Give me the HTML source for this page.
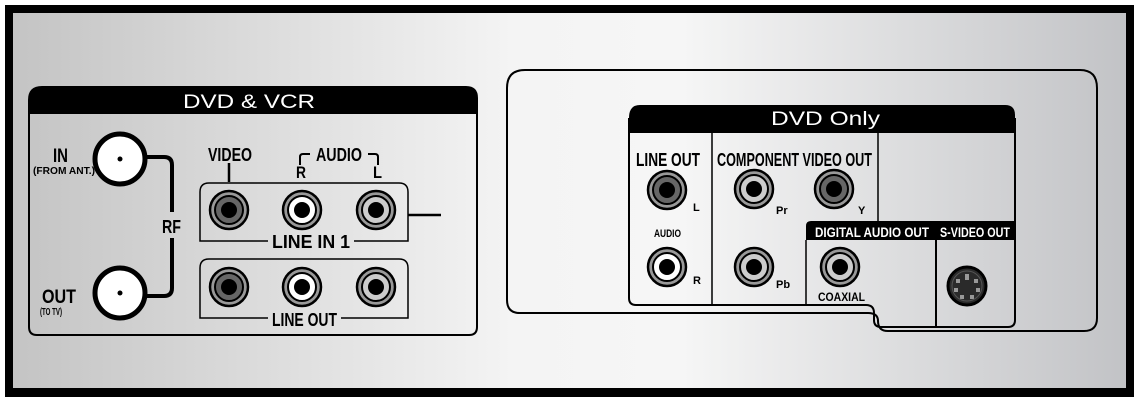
<!DOCTYPE html>
<html><head><meta charset="utf-8"><style>
html,body{margin:0;padding:0;background:#fff;}
svg{display:block}
text{font-family:"Liberation Sans",sans-serif;}
.c{font-family:"Liberation Sans",sans-serif;font-weight:bold;}
</style></head><body>
<svg width="1139" height="402" viewBox="0 0 1139 402" xmlns="http://www.w3.org/2000/svg">
<defs>
<linearGradient id="bg" x1="0" x2="1" y1="0" y2="0">
<stop offset="0" stop-color="#c4c4c4"/><stop offset="0.45" stop-color="#f4f4f4"/><stop offset="0.6" stop-color="#f6f6f6"/><stop offset="1" stop-color="#c2c3c6"/>
</linearGradient>
<g id="jd"><circle r="19" fill="#999" stroke="#000" stroke-width="2.5"/><circle r="14" fill="#666" stroke="#000" stroke-width="2"/><circle r="8" fill="#000"/></g>
<g id="jw"><circle r="19" fill="#999" stroke="#000" stroke-width="2.5"/><circle r="14" fill="#fff" stroke="#000" stroke-width="2"/><circle r="8" fill="#000"/></g>
<g id="jl"><circle r="19" fill="#999" stroke="#000" stroke-width="2.5"/><circle r="14" fill="#ccc" stroke="#000" stroke-width="2"/><circle r="8" fill="#000"/></g>
</defs>
<rect x="5" y="5" width="1129" height="392" fill="#000"/>
<rect x="13" y="13" width="1113" height="375" fill="url(#bg)"/>

<!-- Left panel -->
<path d="M29,100 Q29,87 42,87 L466,87 Q477,87 477,98 L477,327 Q477,335 469,335 L37,335 Q29,335 29,327 Z" fill="none" stroke="#000" stroke-width="2"/>
<path d="M29,114 L29,100 Q29,87 42,87 L466,87 Q477,87 477,98 L477,114 Z" fill="#000"/>
<text x="183" y="108" font-size="19" fill="#fff" textLength="132" lengthAdjust="spacingAndGlyphs">DVD &amp; VCR</text>
<circle cx="120" cy="159" r="25" fill="#fff" stroke="#000" stroke-width="5"/><circle cx="120" cy="159" r="2.5" fill="#000"/>
<circle cx="120" cy="293" r="25" fill="#fff" stroke="#000" stroke-width="5"/><circle cx="120" cy="293" r="2.5" fill="#000"/>
<path d="M145,157 L164,157 Q172,157 172,165 L172,212 M172,238 L172,288 Q172,296 164,296 L145,296" fill="none" stroke="#000" stroke-width="4"/>
<text x="162" y="233" class="c" font-size="18" textLength="19" lengthAdjust="spacingAndGlyphs">RF</text>
<text x="53" y="162" class="c" font-size="19" textLength="15" lengthAdjust="spacingAndGlyphs">IN</text>
<text x="33" y="174" class="c" font-size="10" textLength="62" lengthAdjust="spacingAndGlyphs">(FROM ANT.)</text>
<text x="42" y="303" class="c" font-size="19" textLength="34" lengthAdjust="spacingAndGlyphs">OUT</text>
<text x="40" y="315" class="c" font-size="10" textLength="22" lengthAdjust="spacingAndGlyphs">(TO TV)</text>
<text x="208" y="161" class="c" font-size="18" textLength="44" lengthAdjust="spacingAndGlyphs">VIDEO</text>
<line x1="229" y1="163" x2="229" y2="182" stroke="#000" stroke-width="2.5"/>
<text x="316" y="161" class="c" font-size="18" textLength="46" lengthAdjust="spacingAndGlyphs">AUDIO</text>
<path d="M300,165 L300,157 Q300,154 303,154 L310,154 M368,154 L375,154 Q378,154 378,157 L378,165" fill="none" stroke="#000" stroke-width="2"/>
<text x="296" y="178" class="c" font-size="17" textLength="10" lengthAdjust="spacingAndGlyphs">R</text>
<text x="373" y="178" class="c" font-size="17" textLength="9" lengthAdjust="spacingAndGlyphs">L</text>
<path d="M268,241 L200,241 L200,192 Q200,183 209,183 L399,183 Q408,183 408,192 L408,241 L354,241" fill="none" stroke="#000" stroke-width="1.5"/>
<text x="272" y="248" class="c" font-size="18" textLength="78" lengthAdjust="spacingAndGlyphs">LINE IN 1</text>
<line x1="408" y1="215" x2="441" y2="215" stroke="#000" stroke-width="2.5"/>
<path d="M268,318 L200,318 L200,268 Q200,259 209,259 L399,259 Q408,259 408,268 L408,318 L341,318" fill="none" stroke="#000" stroke-width="1.5"/>
<text x="272" y="326" class="c" font-size="18" textLength="65" lengthAdjust="spacingAndGlyphs">LINE OUT</text>
<use href="#jd" x="229" y="210"/><use href="#jw" x="302" y="210"/><use href="#jl" x="376" y="210"/>
<use href="#jd" x="229" y="287"/><use href="#jw" x="302" y="287"/><use href="#jl" x="376" y="287"/>

<!-- Right outer shape -->
<path d="M507,300 L507,88 Q507,70 525,70 L1080,70 Q1097,70 1097,88 L1097,318 Q1097,331 1084,331 L888,331 Q878,331 878,321 Q878,313 868,313 L520,313 Q507,313 507,300 Z" fill="none" stroke="#000" stroke-width="2"/>
<!-- DVD only panel -->
<path d="M629,133 L629,118 Q629,105 640,105 L1005,105 Q1015,105 1015,115 L1015,133 Z" fill="#000"/>
<text x="771" y="125" font-size="19" fill="#fff" textLength="109" lengthAdjust="spacingAndGlyphs">DVD Only</text>
<path d="M629,118 L629,298 Q629,305 636,305 L866,305 Q874,305 874,313 L874,320 Q874,327 881,327 L1008,327 Q1015,327 1015,320 L1015,118" fill="none" stroke="#000" stroke-width="2"/>
<line x1="712" y1="133" x2="712" y2="305" stroke="#000" stroke-width="1.5"/>
<line x1="878" y1="133" x2="878" y2="221" stroke="#000" stroke-width="1.5"/>
<path d="M806,305 L806,226 Q806,221 811,221 L1015,221 L1015,240 L806,240" fill="#000"/>
<line x1="806" y1="240" x2="806" y2="305" stroke="#000" stroke-width="1.5"/>
<line x1="936" y1="221" x2="936" y2="327" stroke="#000" stroke-width="2"/>
<text x="815" y="237" class="c" font-size="14" fill="#fff" textLength="114" lengthAdjust="spacingAndGlyphs">DIGITAL AUDIO OUT</text>
<text x="940" y="237" class="c" font-size="14" fill="#fff" textLength="70" lengthAdjust="spacingAndGlyphs">S-VIDEO OUT</text>
<text x="636" y="166" class="c" font-size="18" textLength="64" lengthAdjust="spacingAndGlyphs">LINE OUT</text>
<text x="717" y="166" class="c" font-size="18" textLength="155" lengthAdjust="spacingAndGlyphs">COMPONENT VIDEO OUT</text>
<use href="#jd" x="667" y="190"/><use href="#jw" x="667" y="267"/>
<use href="#jl" x="754" y="189"/><use href="#jd" x="834" y="189"/>
<use href="#jl" x="754" y="267"/><use href="#jl" x="840" y="267"/>
<text x="654" y="237" class="c" font-size="11" textLength="27" lengthAdjust="spacingAndGlyphs">AUDIO</text>
<text x="693" y="211" class="c" font-size="11">L</text>
<text x="693" y="284" class="c" font-size="11">R</text>
<text x="776" y="214" class="c" font-size="11">Pr</text>
<text x="858" y="214" class="c" font-size="11">Y</text>
<text x="776" y="288" class="c" font-size="11">Pb</text>
<text x="818" y="301" class="c" font-size="12" textLength="47" lengthAdjust="spacingAndGlyphs">COAXIAL</text>
<circle cx="967" cy="286" r="19" fill="#2a2a2a" stroke="#000" stroke-width="3"/>
<g fill="#999"><rect x="965" y="274" width="4" height="6"/><rect x="956" y="279" width="4" height="4"/><rect x="974" y="279" width="4" height="4"/><rect x="954" y="288" width="4" height="4"/><rect x="976" y="288" width="4" height="4"/><rect x="960" y="295" width="4" height="4"/><rect x="970" y="295" width="4" height="4"/></g>
<circle cx="967" cy="286" r="15" fill="none" stroke="#555" stroke-width="1"/>
</svg>
</body></html>
